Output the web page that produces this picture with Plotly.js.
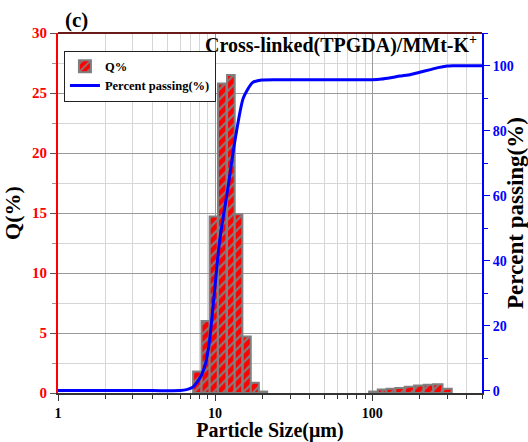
<!DOCTYPE html>
<html><head><meta charset="utf-8">
<script src="https://cdn.plot.ly/plotly-3.0.1.min.js"></script>
<style>html,body{margin:0;padding:0;background:#fff}#chart{width:528px;height:442px}</style>
</head><body><div id="chart"></div>
<script>
// Q% histogram: bin centre sizes (µm) and values (%)
const binCenters = [7.7, 8.7, 9.8, 11.1, 12.6, 14.1, 15.9, 17.9, 20.2, 101.8, 115.6, 131.3, 150, 172.6, 198, 228, 262, 300];
const qPercent   = [1.8, 6.0, 14.7, 25.8, 26.5, 14.9, 4.7, 0.85, 0.12, 0.12, 0.3, 0.35, 0.42, 0.52, 0.63, 0.68, 0.73, 0.35];
// Cumulative percent passing curve
const passSize = [1, 2, 4, 6, 6.6, 7.2, 7.6, 8.2, 8.7, 9.2, 9.7, 10.7, 12.1, 13.3, 15.1, 17.3, 19.8, 25, 50, 100, 115, 131, 150, 176, 198, 235, 262, 300, 323, 400, 500];
const passing  = [0, 0, 0, 0, 0.3, 1.0, 2.3, 4.8, 8.4, 15, 25.8, 46.3, 62.7, 76.2, 90, 94.8, 95.6, 95.7, 95.7, 95.7, 95.9, 96.3, 96.8, 97.3, 97.9, 98.8, 99.4, 99.9, 100, 100, 100];
const xTickVals = [1, 10, 100];
const xTickText = ['1', '10', '100'];
const xMinorVals = [2, 3, 4, 5, 6, 7, 8, 9, 20, 30, 40, 50, 60, 70, 80, 90, 200, 300, 400, 500];
const xMaxSize = 500;

const F = '"Liberation Serif", "Times New Roman", serif';
const lg = v => Math.log10(v);
const logC = binCenters.map(lg);
const widths = logC.map((v, i) => {
  const d = [];
  if (i > 0) d.push(v - logC[i - 1]);
  if (i < logC.length - 1) d.push(logC[i + 1] - v);
  return Math.min(...d);
});

const traces = [
  {
    type: 'bar', name: 'Q%', x: logC, y: qPercent, width: widths,
    xaxis: 'x', yaxis: 'y',
    marker: { color: '#ff0000', line: { color: '#808080', width: 2 },
      pattern: { shape: '/', fgcolor: '#808080', bgcolor: '#ff0000', size: 7, solidity: 0.3 } }
  },
  {
    type: 'scatter', mode: 'lines', name: 'Percent passing(%)', x: passSize.map(lg), y: passing,
    xaxis: 'x', yaxis: 'y2', line: { color: '#0000ff', width: 3, shape: 'spline', smoothing: 0.6 }
  }
];

const layout = {
  width: 528, height: 442,
  margin: { l: 58, r: 46, t: 33, b: 49 },
  paper_bgcolor: '#fff', plot_bgcolor: '#fff',
  font: { family: F, color: '#000' },
  showlegend: true,
  title: { text: '(c)', x: 65 / 528, xanchor: 'left', y: 1 - 20 / 442, yanchor: 'middle',
    font: { family: F, size: 21, weight: 'bold', color: '#000' } },
  legend: { x: 0.014, y: 0.951, xanchor: 'left', yanchor: 'top', bgcolor: '#fff',
    bordercolor: '#222', borderwidth: 1, font: { family: F, size: 12.5, weight: 'bold', color: '#000' },
    tracegroupgap: 0 },
  xaxis: {
    type: 'linear', range: [0, lg(xMaxSize)], tickvals: xTickVals.map(lg), ticktext: xTickText,
    showline: true, linecolor: '#333', linewidth: 2, ticks: 'outside', ticklen: 6, tickcolor: '#333',
    tickfont: { family: F, size: 14, weight: 'bold', color: '#000' },
    showgrid: true, gridcolor: '#9a9a9a', gridwidth: 1, zeroline: false,
    minor: { tickvals: xMinorVals.map(lg), ticks: 'outside', ticklen: 4, tickcolor: '#333', showgrid: true, gridcolor: '#d6d6d6' },
    title: { text: 'Particle Size(μm)', standoff: 4, font: { family: F, size: 20, weight: 'bold', color: '#000' } }
  },
  yaxis: {
    range: [0, 30], dtick: 5, showline: true, linecolor: '#ff0000', linewidth: 2,
    ticks: 'outside', ticklen: 6, tickcolor: '#555',
    tickfont: { family: F, size: 15, weight: 'bold', color: '#ff0000' },
    showgrid: true, gridcolor: '#9a9a9a', zeroline: false,
    minor: { dtick: 2.5, ticks: 'outside', ticklen: 4, tickcolor: '#999', showgrid: true, gridcolor: '#d6d6d6' },
    title: { text: 'Q(%)', standoff: 8, font: { family: F, size: 22, weight: 'bold', color: '#000' } }
  },
  yaxis2: {
    overlaying: 'y', side: 'right', range: [-0.74, 110.06], tickvals: [0, 20, 40, 60, 80, 100],
    showline: true, linecolor: '#0000ff', linewidth: 2, ticks: 'outside', ticklen: 6, tickcolor: '#0000ff',
    tickfont: { family: F, size: 14, weight: 'bold', color: '#0000ff' },
    showgrid: false, zeroline: false,
    minor: { tickvals: [10, 30, 50, 70, 90, 110], ticks: 'outside', ticklen: 4, tickcolor: '#0000ff', showgrid: false },
    title: { text: 'Percent passing(%)', standoff: 5, font: { family: F, size: 23, weight: 'bold', color: '#000' } }
  },
  shapes: [
    { type: 'line', xref: 'paper', yref: 'paper', x0: 0, x1: 1, y0: 1, y1: 1, line: { color: '#6b1a1a', width: 2 } }
  ],
  annotations: [
    { xref: 'paper', yref: 'paper', x: 0.667, y: 0.967, xanchor: 'center', yanchor: 'middle', showarrow: false,
      text: 'Cross-linked(TPGDA)/MMt-K<sup>+</sup>', font: { family: F, size: 20, weight: 'bold', color: '#000' } }
  ]
};

Plotly.newPlot('chart', traces, layout, { displayModeBar: false, staticPlot: true });
</script>
</body></html>
